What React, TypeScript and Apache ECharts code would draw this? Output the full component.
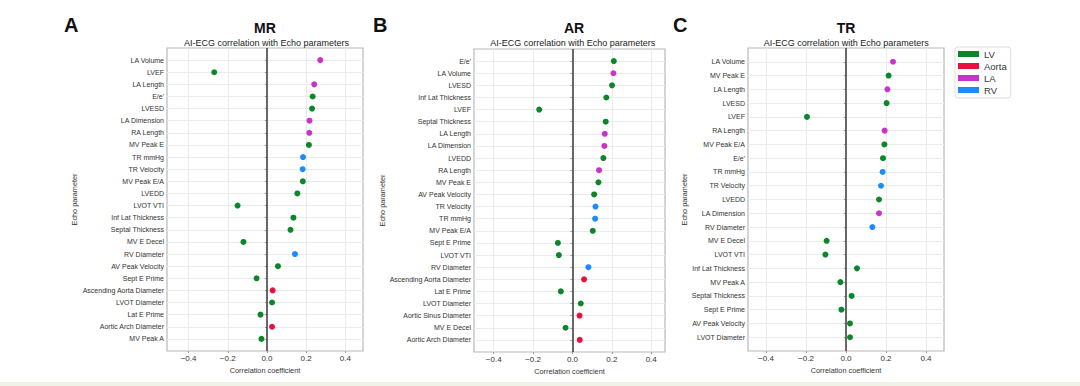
import React, { useEffect, useRef } from 'react';
import * as echarts from 'echarts';

const groupNames = ['LV', 'Aorta', 'LA', 'RV'];
const groupColors = ['#0b862a', '#e8103c', '#c834c8', '#1a8cff'];

const mrParams = ['LA Volume', 'LVEF', 'LA Length', "E/e'", 'LVESD', 'LA Dimension', 'RA Length', 'MV Peak E', 'TR mmHg', 'TR Velocity', 'MV Peak E/A', 'LVEDD', 'LVOT VTI', 'Inf Lat Thickness', 'Septal Thickness', 'MV E Decel', 'RV Diameter', 'AV Peak Velocity', 'Sept E Prime', 'Ascending Aorta Diameter', 'LVOT Diameter', 'Lat E Prime', 'Aortic Arch Diameter', 'MV Peak A'];
const mrValues = [0.272, -0.269, 0.241, 0.233, 0.23, 0.217, 0.216, 0.214, 0.184, 0.182, 0.183, 0.155, -0.15, 0.135, 0.12, -0.12, 0.143, 0.056, -0.053, 0.029, 0.026, -0.033, 0.026, -0.028];
const mrGroups = ['LA', 'LV', 'LA', 'LV', 'LV', 'LA', 'LA', 'LV', 'RV', 'RV', 'LV', 'LV', 'LV', 'LV', 'LV', 'LV', 'RV', 'LV', 'LV', 'Aorta', 'LV', 'LV', 'Aorta', 'LV'];

const arParams = ["E/e'", 'LA Volume', 'LVESD', 'Inf Lat Thickness', 'LVEF', 'Septal Thickness', 'LA Length', 'LA Dimension', 'LVEDD', 'RA Length', 'MV Peak E', 'AV Peak Velocity', 'TR Velocity', 'TR mmHg', 'MV Peak E/A', 'Sept E Prime', 'LVOT VTI', 'RV Diameter', 'Ascending Aorta Diameter', 'Lat E Prime', 'LVOT Diameter', 'Aortic Sinus Diameter', 'MV E Decel', 'Aortic Arch Diameter'];
const arValues = [0.21, 0.208, 0.201, 0.172, -0.169, 0.169, 0.164, 0.162, 0.157, 0.135, 0.132, 0.11, 0.117, 0.115, 0.103, -0.074, -0.069, 0.081, 0.059, -0.059, 0.042, 0.036, -0.035, 0.037];
const arGroups = ['LV', 'LA', 'LV', 'LV', 'LV', 'LV', 'LA', 'LA', 'LV', 'LA', 'LV', 'LV', 'RV', 'RV', 'LV', 'LV', 'LV', 'RV', 'Aorta', 'LV', 'LV', 'Aorta', 'LV', 'Aorta'];

const trParams = ['LA Volume', 'MV Peak E', 'LA Length', 'LVESD', 'LVEF', 'RA Length', 'MV Peak E/A', "E/e'", 'TR mmHg', 'TR Velocity', 'LVEDD', 'LA Dimension', 'RV Diameter', 'MV E Decel', 'LVOT VTI', 'Inf Lat Thickness', 'MV Peak A', 'Septal Thickness', 'Sept E Prime', 'AV Peak Velocity', 'LVOT Diameter'];
const trValues = [0.235, 0.213, 0.207, 0.203, -0.195, 0.193, 0.192, 0.185, 0.183, 0.175, 0.165, 0.165, 0.132, -0.097, -0.103, 0.055, -0.028, 0.028, -0.023, 0.02, 0.02];
const trGroups = ['LA', 'LV', 'LA', 'LV', 'LV', 'LA', 'LV', 'LV', 'RV', 'RV', 'LV', 'LA', 'RV', 'LV', 'LV', 'LV', 'LV', 'LV', 'LV', 'LV', 'LV'];

const xTicks = [-0.4, -0.2, 0, 0.2, 0.4];
const panelLetters = ['A', 'B', 'C'];
const panelTitles = ['MR', 'AR', 'TR'];
const subtitle = 'AI-ECG correlation with Echo parameters';
const xName = 'Correlation coefficient';
const yName = 'Echo parameter';

const panels = [
  { params: mrParams, values: mrValues, groups: mrGroups, min: -0.51, max: 0.49 },
  { params: arParams, values: arValues, groups: arGroups, min: -0.5, max: 0.47 },
  { params: trParams, values: trValues, groups: trGroups, min: -0.49, max: 0.49 },
];

// layout
const gridBoxes = [
  { left: 167, top: 48, width: 196, height: 303 },
  { left: 474, top: 49, width: 191, height: 303 },
  { left: 748, top: 48, width: 196, height: 303 },
];
const letterX = [64, 373, 673];
const titleX = [265, 574, 846];
const subX = [266.5, 572.7, 846.2];
const yNameX = [74.5, 382.5, 684.5];
const FONT = '"Liberation Sans", Arial, Helvetica, sans-serif';

export default function App() {
  const ref = useRef<HTMLDivElement>(null);
  useEffect(() => {
    if (!ref.current) return;
    const chart = echarts.init(ref.current, undefined, { renderer: 'svg' });

    const xAxes: any[] = [];
    const yAxes: any[] = [];
    const series: any[] = [];
    const graphics: any[] = [];

    panels.forEach((p, i) => {
      const n = p.params.length;
      const padTop = '__padTop' + i;
      const padBot = '__padBot' + i;
      const inner = (idx: number) => idx > 0 && idx < n + 1;
      xAxes.push({
        gridIndex: i,
        type: 'value',
        min: p.min,
        max: p.max,
        axisLine: { show: false },
        axisTick: { show: true, length: 2, lineStyle: { color: '#999' }, customValues: xTicks },
        axisLabel: {
          customValues: xTicks,
          formatter: (v: number) => (v < -1e-9 ? '\u2212' : '') + Math.abs(v).toFixed(1),
          fontSize: 8,
          color: '#333',
          margin: 3,
          fontFamily: FONT,
        },
        splitLine: { show: true, lineStyle: { color: '#ebebeb', width: 1 } },
        name: xName,
        nameLocation: 'middle',
        nameGap: 13,
        nameTextStyle: { fontSize: 7.3, color: '#333', fontFamily: FONT },
      });
      yAxes.push({
        gridIndex: i,
        type: 'category',
        inverse: true,
        boundaryGap: false,
        data: [padTop, ...p.params, padBot],
        axisLine: { show: false },
        axisTick: { show: true, length: 2, interval: inner, lineStyle: { color: '#999' } },
        axisLabel: {
          interval: 0,
          fontSize: 7,
          color: '#333',
          margin: 3,
          fontFamily: FONT,
          formatter: (v: string) => (v === padTop || v === padBot ? '' : v),
        },
        splitLine: { show: true, interval: inner, lineStyle: { color: '#ebebeb', width: 1 } },
      });
      groupNames.forEach((g, gi) => {
        const data: any[] = [];
        p.params.forEach((name, k) => {
          if (p.groups[k] === g) data.push([p.values[k], name]);
        });
        const s: any = {
          type: 'scatter',
          name: g,
          xAxisIndex: i,
          yAxisIndex: i,
          data,
          symbolSize: 6,
          itemStyle: { color: groupColors[gi], opacity: 1 },
          z: 5,
        };
        if (gi === 0) {
          s.markLine = {
            silent: true,
            symbol: 'none',
            label: { show: false },
            lineStyle: { color: '#4f4f4f', width: 1.7, type: 'solid' },
            data: [{ xAxis: 0 }],
            z: 3,
          };
        }
        series.push(s);
      });

      const gb = gridBoxes[i];
      graphics.push(
        {
          type: 'text',
          x: letterX[i],
          y: 24.5,
          style: { text: panelLetters[i], font: `bold 20px ${FONT}`, fill: '#111', textAlign: 'left', textVerticalAlign: 'middle' },
        },
        {
          type: 'text',
          x: titleX[i],
          y: 27.5,
          style: { text: panelTitles[i], font: `bold 14px ${FONT}`, fill: '#111', textAlign: 'center', textVerticalAlign: 'middle' },
        },
        {
          type: 'text',
          x: subX[i],
          y: 43.3,
          style: { text: subtitle, font: `9px ${FONT}`, fill: '#222', textAlign: 'center', textVerticalAlign: 'middle' },
        },
        {
          type: 'text',
          x: yNameX[i],
          y: gb.top + gb.height / 2,
          rotation: Math.PI / 2,
          style: { text: yName, font: `7.3px ${FONT}`, fill: '#333', textAlign: 'center', textVerticalAlign: 'middle' },
        }
      );
    });

    graphics.push({
      type: 'rect',
      shape: { x: 0, y: 382, width: 1080, height: 4 },
      style: { fill: '#f0f1e7' },
    });

    chart.setOption({
      animation: false,
      backgroundColor: '#ffffff',
      textStyle: { fontFamily: FONT },
      grid: gridBoxes.map((b) => ({ ...b, show: true, borderColor: '#b8b8b8', borderWidth: 1.2, backgroundColor: 'transparent', containLabel: false })),
      xAxis: xAxes,
      yAxis: yAxes,
      series,
      legend: {
        data: groupNames,
        orient: 'vertical',
        left: 955,
        top: 47,
        itemWidth: 21,
        itemHeight: 6,
        itemGap: 2,
        icon: 'rect',
        selectedMode: false,
        textStyle: { fontSize: 9.5, color: '#333', fontFamily: FONT },
        borderColor: '#dddddd',
        borderWidth: 1,
        borderRadius: 3,
        padding: [2, 4, 3, 3],
      },
      graphic: graphics,
    });
    return () => chart.dispose();
  }, []);
  return <div ref={ref} style={{ position: 'absolute', left: 0, top: 0, width: 1080, height: 386 }} />;
}
